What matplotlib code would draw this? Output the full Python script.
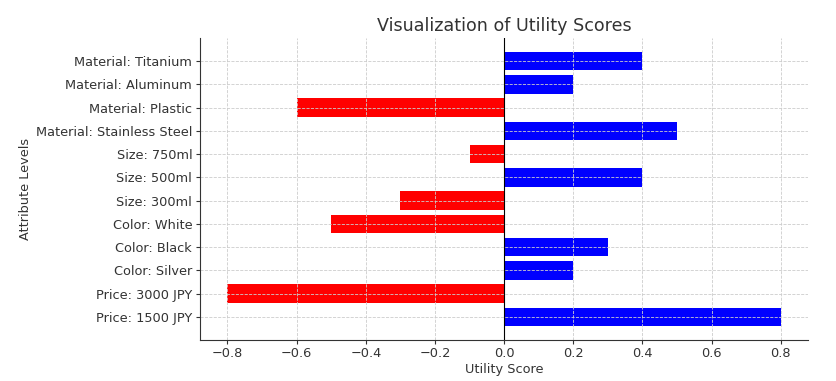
import matplotlib.pyplot as plt

# utility scores, bottom to top as drawn
levels = ["Price: 1500 JPY", "Price: 3000 JPY", "Color: Silver", "Color: Black",
          "Color: White", "Size: 300ml", "Size: 500ml", "Size: 750ml",
          "Material: Stainless Steel", "Material: Plastic", "Material: Aluminum",
          "Material: Titanium"]
scores = [0.8, -0.8, 0.2, 0.3, -0.5, -0.3, 0.4, -0.1, 0.5, -0.6, 0.2, 0.4]

txt = "#333333"
plt.rcParams["text.color"] = txt
plt.rcParams["axes.labelcolor"] = txt
plt.rcParams["xtick.color"] = txt
plt.rcParams["ytick.color"] = txt
plt.rcParams["font.size"] = 9.3

fig = plt.figure(figsize=(8.36, 3.81), dpi=100)
ax = fig.add_axes([0.239, 0.108, 0.728, 0.792])

colors = ["blue" if s > 0 else "red" for s in scores]
ax.barh(levels, scores, color=colors, height=0.8)
ax.axvline(0, color="black", linewidth=0.8)

ax.set_title("Visualization of Utility Scores", fontsize=12.6, pad=5)
ax.set_xlabel("Utility Score", labelpad=2)
ax.set_ylabel("Attribute Levels", labelpad=3)
ax.tick_params(length=3, pad=2.5, labelsize=9.3)
ax.grid(True, linestyle="--", color="#cccccc", linewidth=0.6)
ax.spines["top"].set_visible(False)
ax.spines["right"].set_visible(False)
ax.spines["left"].set_color("#333333")
ax.spines["bottom"].set_color("#333333")

fig.savefig("out.png", dpi=100)
